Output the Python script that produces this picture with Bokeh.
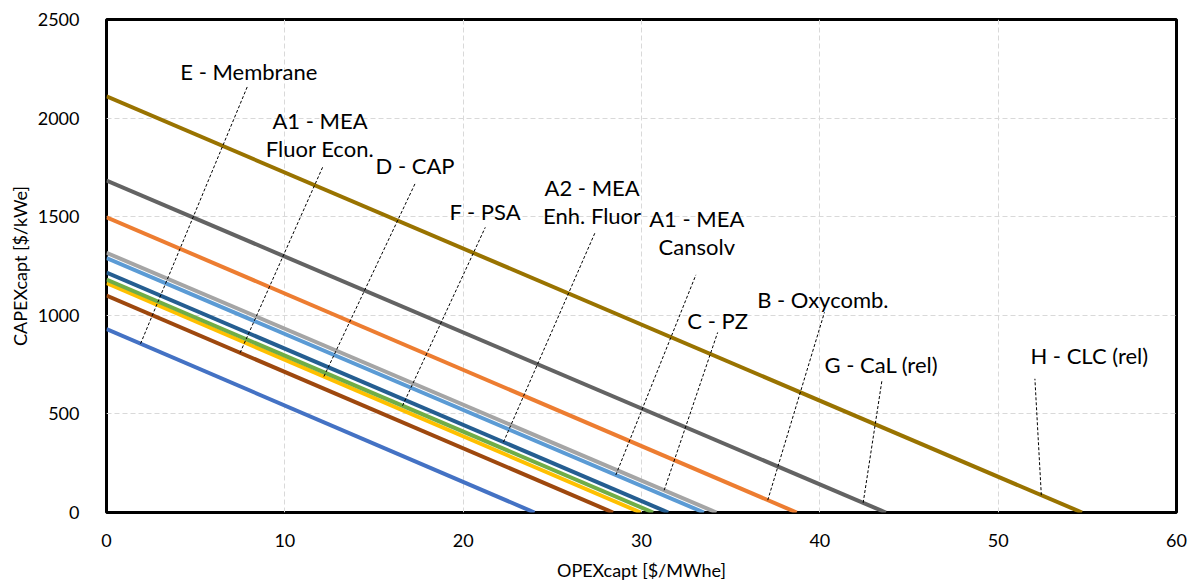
from bokeh.plotting import figure
from bokeh.models import Range1d, FixedTicker, ColumnDataSource
from bokeh.embed import file_html
from bokeh.resources import INLINE
from bokeh.core.properties import value

# Series: CAPEX intercept (OPEX = 0) and OPEX intercept (CAPEX = 0)
names = ["E - Membrane", "A1 - MEA Fluor Econ.", "D - CAP", "F - PSA", "A2 - MEA Enh. Fluor",
         "A1 - MEA Cansolv", "C - PZ", "B - Oxycomb.", "G - CaL (rel)", "H - CLC (rel)"]
capex0 = [930, 1100, 1163, 1181, 1217, 1290, 1317, 1497, 1683, 2110]
opex0 = [24.0, 28.4, 29.95, 30.65, 31.5, 33.5, 34.2, 38.7, 43.7, 54.7]
colors = ["#4472C4", "#9E480E", "#FFC000", "#70AD47", "#255E91",
          "#5B9BD5", "#A5A5A5", "#ED7D31", "#636363", "#997300"]

# Annotation placement (label lines and leader lines)
label_lines = [["E - Membrane"], ["A1 - MEA", "Fluor Econ."], ["D - CAP"], ["F - PSA"],
               ["A2 - MEA", "Enh. Fluor"], ["A1 - MEA", "Cansolv"], ["C - PZ"],
               ["B - Oxycomb."], ["G - CaL (rel)"], ["H - CLC (rel)"]]
label_x = [7.98, 11.97, 17.30, 21.24, 27.23, 33.1, 34.27, 40.17, 43.45, 55.11]
label_y = [2236, 1916, 1758, 1525, 1578, 1422, 976, 1078, 749, 796]
leader_top_x = [7.90, 12.12, 17.32, 21.24, 27.38, 33.05, 34.27, 40.26, 43.48, 52.06]
leader_top_y = [2160, 1751, 1671, 1446, 1416, 1205, 913, 1015, 668, 678]
leader_bot_x = [1.91, 7.49, 12.19, 16.6, 22.26, 28.56, 31.27, 37.08, 42.43, 52.42]

x_ticks = [0, 10, 20, 30, 40, 50, 60]
y_ticks = [0, 500, 1000, 1500, 2000, 2500]

FONT = "Lato"

p = figure(frame_width=1070, frame_height=493, output_backend="svg", toolbar_location=None,
           x_range=Range1d(0, 60), y_range=Range1d(0, 2500))
p.min_border_left = 106
p.min_border_top = 19
p.min_border_right = 15
p.min_border_bottom = 70
p.outline_line_color = "black"
p.outline_line_width = 3
p.background_fill_color = "white"
p.border_fill_color = "white"

for ax in (p.xaxis[0], p.yaxis[0]):
    ax.axis_line_color = None
    ax.major_tick_line_color = None
    ax.minor_tick_line_color = None
    ax.major_label_text_font = FONT
    ax.major_label_text_font_size = "18px"
    ax.major_label_text_color = "black"
    ax.axis_label_text_font = FONT
    ax.axis_label_text_font_size = "18px"
    ax.axis_label_text_font_style = "normal"
    ax.axis_label_text_color = "black"

p.xaxis.ticker = FixedTicker(ticks=x_ticks)
p.yaxis.ticker = FixedTicker(ticks=y_ticks)
p.xaxis.axis_label = "OPEXcapt [$/MWhe]"
p.yaxis.axis_label = "CAPEXcapt [$/kWe]"
p.xaxis.major_label_standoff = 15
p.yaxis.major_label_standoff = 21
p.xaxis.axis_label_standoff = 9
p.yaxis.axis_label_standoff = 4

for g in (p.xgrid[0], p.ygrid[0]):
    g.grid_line_color = "#D9D9D9"
    g.grid_line_dash = "5 3"
    g.grid_line_width = 1

for c0, o0, col in zip(capex0, opex0, colors):
    p.line([0, o0], [c0, 0], line_color=col, line_width=4)

# leader lines
xs, ys = [], []
for i in range(len(names)):
    yb = capex0[i] * (1 - leader_bot_x[i] / opex0[i])
    xs.append([leader_bot_x[i], leader_top_x[i]])
    ys.append([yb, leader_top_y[i]])
p.multi_line(xs, ys, line_color="black", line_width=1, line_dash="3 2")

# labels
tx, ty, tt = [], [], []
line_h = 28 * 2500 / 493
for i, lines in enumerate(label_lines):
    n = len(lines)
    for j, t in enumerate(lines):
        tx.append(label_x[i])
        ty.append(label_y[i] + ((n - 1) / 2 - j) * line_h)
        tt.append(t)
src = ColumnDataSource(dict(x=tx, y=ty, text=tt))
p.text(x="x", y="y", text="text", source=src, text_align="center", text_baseline="middle",
       text_font=value(FONT), text_font_size="22px", text_color="black")

open("out.html", "w").write(file_html(p, INLINE))
